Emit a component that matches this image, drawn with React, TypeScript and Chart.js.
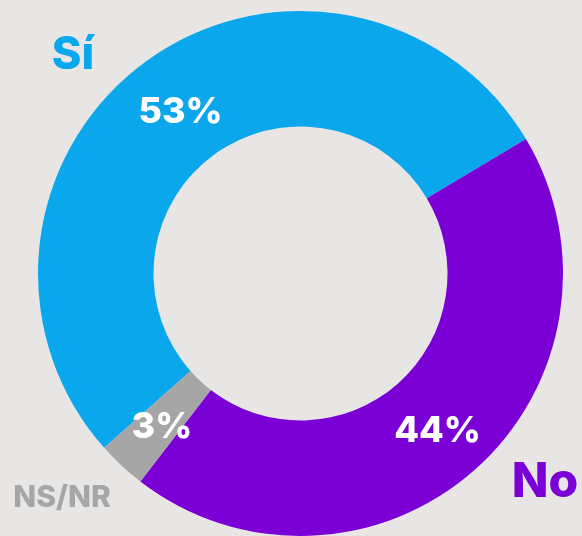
import React, { useEffect, useRef } from "react";
import { Chart, registerables } from "chart.js";

Chart.register(...registerables);

const categories = ["Sí", "No", "NS/NR"];
const values = [53, 44, 3];
const colors = ["#0BA7EC", "#7B00D6", "#A6A6A6"];
const BG = "#E8E6E4";
const FONT = "Inter, 'Noto Sans', sans-serif";

const labelPlugin = {
  id: "sliceLabels",
  afterDatasetsDraw(chart: any) {
    const ctx = chart.ctx;
    const meta = chart.getDatasetMeta(0);
    ctx.save();
    ctx.textAlign = "center";
    ctx.textBaseline = "alphabetic";
    // percentage labels inside slices
    meta.data.forEach((arc: any, i: number) => {
      const p = arc.getCenterPoint();
      const size = 36;
      ctx.font = `800 ${size}px ${FONT}`;
      ctx.fillStyle = "#FFFFFF";
      ctx.fillText(`${values[i]}%`, p.x + 1, p.y + size * 0.36 + 2);
    });
    // category labels
    const ca = chart.chartArea;
    const cats = [
      { i: 0, x: ca.left + 35, y: 69, size: 45 },
      { i: 1, x: ca.left + 507, y: 497, size: 48 },
      { i: 2, x: ca.left + 24, y: 507, size: 30 },
    ];
    cats.forEach((c) => {
      ctx.font = `800 ${c.size}px ${FONT}`;
      ctx.fillStyle = colors[c.i];
      ctx.fillText(categories[c.i], c.x, c.y);
    });
    ctx.restore();
  },
};

export default function App() {
  const ref = useRef<HTMLCanvasElement>(null);
  useEffect(() => {
    document.body.style.margin = "0";
    document.body.style.background = BG;
    const chart = new Chart(ref.current as HTMLCanvasElement, {
      type: "doughnut",
      data: {
        labels: categories,
        datasets: [
          {
            data: values,
            backgroundColor: colors,
            borderWidth: 0,
          },
        ],
      },
      options: {
        responsive: false,
        animation: false,
        rotation: -131.6,
        cutout: "56%",
        layout: { padding: { left: 38, right: 19, top: 11, bottom: 0 } },
        plugins: {
          legend: { display: false },
          tooltip: { enabled: false },
        },
      },
      plugins: [labelPlugin],
    });
    return () => chart.destroy();
  }, []);
  return (
    <div style={{ width: 582, height: 536, background: BG, position: "relative" }}>
      <canvas ref={ref} width={582} height={536} style={{ display: "block" }} />
    </div>
  );
}
